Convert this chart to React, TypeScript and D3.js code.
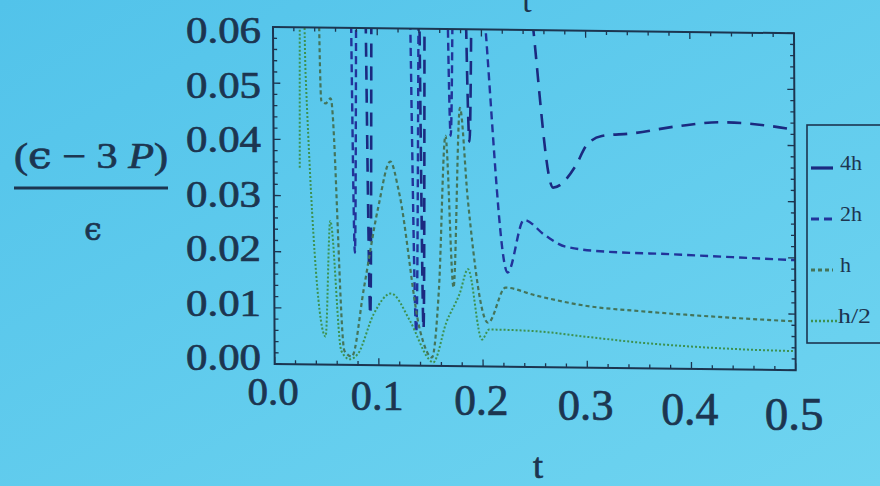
import React from 'react';
import * as d3 from 'd3';

const width = 880;
const height = 486;

// frame of the plot, in page pixels
const frame = { left: 273, top: 27, w: 521, h: 337 };

const xTicks = [0, 0.1, 0.2, 0.3, 0.4, 0.5];
const xTickLabels = ['0.0', '0.1', '0.2', '0.3', '0.4', '0.5'];
const yTicks = [0, 0.01, 0.02, 0.03, 0.04, 0.05, 0.06];
const yTickLabels = ['0.00', '0.01', '0.02', '0.03', '0.04', '0.05', '0.06'];

const seriesNames = ['4h', '2h', 'h', 'h/2'];

// values above 0.06 are clipped by the frame
const t4h = [0.02, 0.087, 0.092, 0.096, 0.139, 0.143, 0.147, 0.182, 0.188, 0.193, 0.243, 0.268, 0.29, 0.3, 0.315, 0.343, 0.388, 0.43, 0.474, 0.5];
const v4h = [0.09, 0.09, 0.009, 0.09, 0.09, 0.0066, 0.09, 0.09, 0.04, 0.09, 0.07, 0.032, 0.036, 0.0395, 0.0413, 0.0418, 0.0432, 0.044, 0.0435, 0.0428];

const t2h = [0.02, 0.073, 0.0775, 0.0815, 0.129, 0.136, 0.142, 0.165, 0.170, 0.175, 0.197, 0.224, 0.24, 0.26, 0.28, 0.32, 0.38, 0.44, 0.5];
const v2h = [0.09, 0.09, 0.02, 0.09, 0.09, 0.006, 0.09, 0.09, 0.041, 0.09, 0.075, 0.0168, 0.0262, 0.0235, 0.0215, 0.0207, 0.0204, 0.02, 0.0196];

const th = [0.043, 0.046, 0.05, 0.055, 0.067, 0.074, 0.086, 0.1, 0.112, 0.12, 0.14, 0.151, 0.158, 0.165, 0.172, 0.179, 0.186, 0.205, 0.222, 0.25, 0.3, 0.35, 0.4, 0.45, 0.5];
const vh = [0.08, 0.047, 0.0465, 0.0474, 0.0025, 0.0015, 0.0137, 0.028, 0.0363, 0.031, 0.006, 0.0015, 0.0137, 0.041, 0.014, 0.046, 0.03, 0.0078, 0.0141, 0.0128, 0.011, 0.0102, 0.0096, 0.0091, 0.0087];

const thHalf = [0.025, 0.0265, 0.029, 0.031, 0.049, 0.054, 0.064, 0.072, 0.08, 0.095, 0.112, 0.13, 0.148, 0.152, 0.165, 0.178, 0.186, 0.199, 0.206, 0.25, 0.3, 0.35, 0.4, 0.45, 0.5];
const vhHalf = [0.035, 0.075, 0.075, 0.052, 0.005, 0.0256, 0.0025, 0.001, 0.002, 0.009, 0.0128, 0.008, 0.0012, 0.0006, 0.0078, 0.013, 0.0173, 0.0048, 0.0066, 0.0064, 0.0055, 0.0046, 0.004, 0.0036, 0.0034];

const seriesT = [t4h, t2h, th, thHalf];
const seriesV = [v4h, v2h, vh, vhHalf];
const seriesColor = ['#1b2a80', '#22339a', '#44745a', '#3d9150'];
const seriesWidth = [2.6, 2.4, 2.2, 2];
const seriesDash = ['14 9', '8 5', '4 3', '2 2'];

const ink = '#1c3550';
const serif = "'Liberation Serif', 'Times New Roman', Times, serif";
const greek = "'DejaVu Serif', serif";

const App = () => {
  const x = d3.scaleLinear().domain([0, 0.5]).range([0, frame.w]);
  const y = d3.scaleLinear().domain([0, 0.06]).range([frame.h, 0]);
  // tick labels sit a little closer together than the ticks (photo perspective)
  const yLab = d3.scaleLinear().domain([0, 0.06]).range([358, 31]);

  const line = d3.line<[number, number]>()
    .x(d => x(d[0]))
    .y(d => y(d[1]))
    .curve(d3.curveMonotoneX);

  const xMinor = d3.range(0, 0.5001, 0.02);
  const yMinor = d3.range(0, 0.06001, 0.002);

  return (
    <svg width={width} height={height} style={{ position: 'absolute', left: 0, top: 0 }}>
      <defs>
        <linearGradient id="bg" x1="0" y1="0" x2="1" y2="1">
          <stop offset="0" stopColor="#52c3ea" />
          <stop offset="1" stopColor="#6fd4f0" />
        </linearGradient>
        <clipPath id="plotClip">
          <rect x={0} y={0} width={frame.w} height={frame.h} />
        </clipPath>
      </defs>
      <rect width={width} height={height} fill="url(#bg)" />

      {/* cut off label of the plot above */}
      <text x={527} y={12} fontSize={34} fontFamily={serif} fill={ink} textAnchor="middle">t</text>

      <g transform={`matrix(1, 0.012, 0.005, 1, ${frame.left}, ${frame.top})`}>
        <g clipPath="url(#plotClip)">
          {seriesNames.map((name, i) => (
            <path
              key={name}
              d={line(seriesT[i].map((t, j) => [t, seriesV[i][j]] as [number, number])) || ''}
              fill="none"
              stroke={seriesColor[i]}
              strokeWidth={seriesWidth[i]}
              strokeDasharray={seriesDash[i]}
            />
          ))}
        </g>
        <rect x={0} y={0} width={frame.w} height={frame.h} fill="none" stroke={ink} strokeWidth={2} />
        {xMinor.map(t => {
          const major = Math.abs(t * 10 - Math.round(t * 10)) < 1e-6;
          const len = major ? 7 : 4;
          return (
            <g key={'x' + t}>
              <line x1={x(t)} x2={x(t)} y1={frame.h} y2={frame.h - len} stroke={ink} strokeWidth={1.3} />
              <line x1={x(t)} x2={x(t)} y1={0} y2={len} stroke={ink} strokeWidth={1.3} />
            </g>
          );
        })}
        {yMinor.map(v => {
          const major = Math.abs(v * 100 - Math.round(v * 100)) < 1e-6;
          const len = major ? 7 : 4;
          return (
            <g key={'y' + v}>
              <line x1={0} x2={len} y1={y(v)} y2={y(v)} stroke={ink} strokeWidth={1.3} />
              <line x1={frame.w} x2={frame.w - len} y1={y(v)} y2={y(v)} stroke={ink} strokeWidth={1.3} />
            </g>
          );
        })}
      </g>

      <g stroke={ink} strokeWidth={0.7}>
        {yTicks.map((v, i) => (
          <text key={v} x={261} y={yLab(v) + 12} fontSize={37} fontFamily={serif} fill={ink}
            textAnchor="end" textLength={75} lengthAdjust="spacingAndGlyphs">
            {yTickLabels[i]}
          </text>
        ))}
        {xTicks.map((t, i) => (
          <text key={t} x={frame.left + x(t)} y={405 + t * 50} fontSize={41 + t * 12}
            fontFamily={serif} fill={ink} textAnchor="middle">
            {xTickLabels[i]}
          </text>
        ))}
        <text x={538} y={478} fontSize={36} fontFamily={serif} fill={ink} textAnchor="middle">t</text>

        {/* y axis label: (ϵ − 3P) / ϵ */}
        <text x={14} y={168} fontSize={35} fontFamily={serif} fill={ink} textLength={154} lengthAdjust="spacingAndGlyphs">
          (<tspan fontFamily={greek}>ϵ</tspan> − 3 <tspan fontStyle="italic">P</tspan>)
        </text>
        <text x={93} y={240} fontSize={31} fontFamily={greek} fill={ink} textAnchor="middle">ϵ</text>
      </g>
      <line x1={14} x2={168} y1={188} y2={188} stroke={ink} strokeWidth={3} />

      {/* legend */}
      <rect x={807} y={125} width={110} height={218} fill="none" stroke={ink} strokeWidth={1.6} />
      {seriesNames.map((name, i) => (
        <g key={name} transform={`translate(0, ${168 + i * 51})`}>
          <line x1={811} x2={i === 3 ? 838 : 833} y1={0} y2={0} stroke={seriesColor[i]}
            strokeWidth={seriesWidth[i] + 0.6}
            strokeDasharray={i === 0 ? 'none' : seriesDash[i]} />
          <text x={i === 3 ? 838 : 840} y={0} fontSize={22} fontFamily={serif} fill={ink}
            dy="0.1em" textLength={name.length * 11} lengthAdjust="spacingAndGlyphs">
            {name}
          </text>
        </g>
      ))}
    </svg>
  );
};

export default App;
